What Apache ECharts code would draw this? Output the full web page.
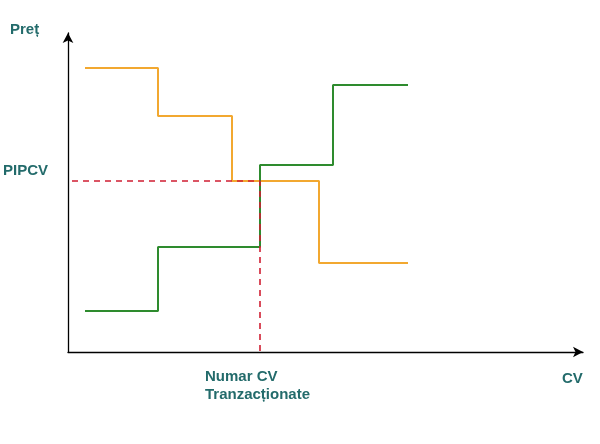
<!DOCTYPE html>
<html><head><meta charset="utf-8">
<script src="https://cdn.jsdelivr.net/npm/echarts@6/dist/echarts.min.js"></script>
<style>html,body{margin:0;padding:0;background:#fff}#c{width:600px;height:444px}</style>
</head><body><div id="c"></div>
<script>
// Quantities (x) and prices (y) in chart units
var demandX = [17, 90, 164, 251, 340];
var demandY = [284, 236, 171, 89, 89];
var supplyX = [17, 90, 192, 265, 340];
var supplyY = [41, 105, 187, 267, 267];
var eqPrice = 171;      // PIPCV
var eqQty = 192;        // Numar CV Tranzactionate
var eqStartX = 4;
var labelY = 'Preț', labelPrice = 'PIPCV', labelQty = 'Numar CV\nTranzacționate', labelX = 'CV';

function pairs(xs, ys){ return xs.map(function(x,i){ return [x, ys[i]]; }); }

var chart = echarts.init(document.getElementById('c'));
var teal = '#236b6b';
var txt = {fontFamily:'Liberation Sans, Arial', fontWeight:'bold', fontSize:15, fill:teal};
chart.setOption({
  animation:false,
  grid:{left:68, right:17, top:33, bottom:92},
  xAxis:{type:'value', min:0, max:515,
    axisLine:{lineStyle:{color:'#000', width:1.3}, symbol:['none','arrow'], symbolSize:[8,10], symbolOffset:[0,0]},
    axisTick:{show:false}, axisLabel:{show:false}, splitLine:{show:false}},
  yAxis:{type:'value', min:0, max:319,
    axisLine:{lineStyle:{color:'#000', width:1.3}, symbol:['none','arrow'], symbolSize:[8,10]},
    axisTick:{show:false}, axisLabel:{show:false}, splitLine:{show:false}},
  series:[
    {type:'line', step:'end', data:pairs(demandX, demandY), showSymbol:false,
      lineStyle:{color:'#f2a830', width:2}, z:2},
    {type:'line', step:'end', data:pairs(supplyX, supplyY), showSymbol:false,
      lineStyle:{color:'#2e8b2e', width:2}, z:3},
    {type:'line', data:[[eqStartX, eqPrice],[eqQty, eqPrice],[eqQty, 0]], showSymbol:false,
      lineStyle:{color:'#d01e32', width:1.6, type:[6,5]}, z:4}
  ],
  graphic:[
    {type:'text', left:10, top:22, style:Object.assign({text:labelY}, txt)},
    {type:'text', left:3, top:163, style:Object.assign({text:labelPrice}, txt)},
    {type:'text', left:205, top:368, style:Object.assign({text:labelQty, lineHeight:18}, txt)},
    {type:'text', left:562, top:371, style:Object.assign({text:labelX}, txt)}
  ]
});
</script></body></html>
